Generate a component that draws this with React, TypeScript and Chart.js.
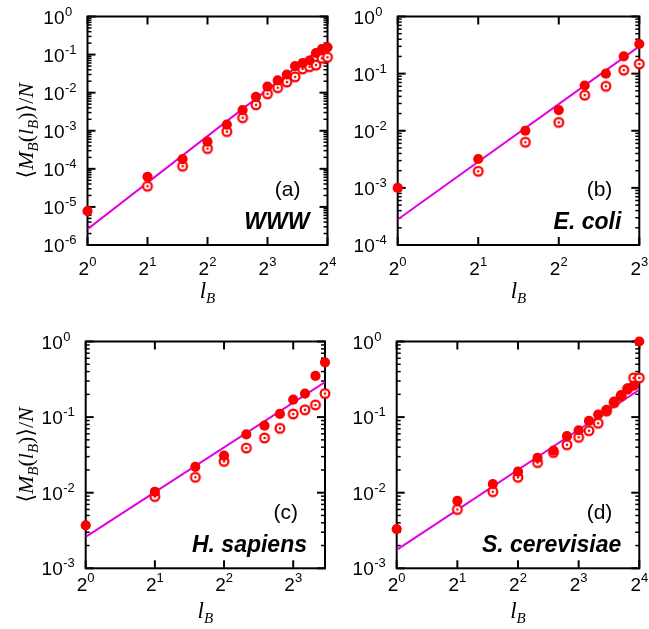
import React, { useEffect, useRef } from "react";
import { Chart, registerables } from "chart.js";

Chart.register(...registerables);

const WIDTH = 649;
const HEIGHT = 629;

const RED = "rgb(250,0,0)";
const MAGENTA = "rgb(225,0,225)";
const SANS = '"Liberation Sans", Arial, sans-serif';
const SERIF = '"Liberation Serif", "DejaVu Serif", "DejaVu Sans", serif';

// (a) WWW
const wwwLB = [1, 2, 3, 4, 5, 6, 7, 8, 9, 10, 11, 12, 13, 14, 15, 16];
const wwwFilled = [7.8e-6, 6.2e-5, 1.8e-4, 5.2e-4, 1.45e-3, 3.5e-3, 7.8e-3, 1.45e-2, 2.1e-2, 3.0e-2, 5.0e-2, 6.0e-2, 7.0e-2, 1.1e-1, 1.4e-1, 1.55e-1];
const wwwOpenLB = [2, 3, 4, 5, 6, 7, 8, 9, 10, 11, 12, 13, 14, 15, 16];
const wwwOpen = [3.5e-5, 1.17e-4, 3.4e-4, 9.5e-4, 2.2e-3, 4.8e-3, 9.3e-3, 1.35e-2, 1.9e-2, 2.6e-2, 4.2e-2, 4.8e-2, 5.3e-2, 8.0e-2, 8.5e-2];
const wwwFitLB = [1, 16];
const wwwFit = [2.6e-6, 0.2];

// (b) E. coli
const ecoliLB = [1, 2, 3, 4, 5, 6, 7, 8];
const ecoliFilled = [1.0e-3, 3.2e-3, 1.0e-2, 2.3e-2, 6.2e-2, 1.0e-1, 2.0e-1, 3.3e-1];
const ecoliOpenLB = [2, 3, 4, 5, 6, 7, 8];
const ecoliOpen = [1.95e-3, 6.3e-3, 1.4e-2, 4.2e-2, 6.0e-2, 1.15e-1, 1.48e-1];
const ecoliFitLB = [1, 8];
const ecoliFit = [2.8e-4, 0.3];

// (c) H. sapiens
const hsapLB = [1, 2, 3, 4, 5, 6, 7, 8, 9, 10, 11];
const hsapFilled = [3.7e-3, 1.03e-2, 2.2e-2, 3.1e-2, 5.9e-2, 7.7e-2, 1.1e-1, 1.7e-1, 2.05e-1, 3.5e-1, 5.3e-1];
const hsapOpenLB = [2, 3, 4, 5, 6, 7, 8, 9, 10, 11];
const hsapOpen = [8.9e-3, 1.6e-2, 2.6e-2, 3.9e-2, 5.3e-2, 7.1e-2, 1.1e-1, 1.25e-1, 1.45e-1, 2.05e-1];
const hsapFitLB = [1, 11];
const hsapFit = [2.6e-3, 0.29];

// (d) S. cerevisiae
const scerLB = [1, 2, 3, 4, 5, 6, 7, 8, 9, 10, 11, 12, 13, 14, 15, 16];
const scerFilled = [3.3e-3, 7.8e-3, 1.3e-2, 1.9e-2, 2.9e-2, 3.6e-2, 5.6e-2, 6.7e-2, 8.9e-2, 1.08e-1, 1.25e-1, 1.6e-1, 1.95e-1, 2.4e-1, 2.6e-1, 1.0];
const scerOpenLB = [2, 3, 4, 5, 6, 7, 8, 9, 10, 11, 12, 13, 14, 15, 16];
const scerOpen = [6.0e-3, 1.03e-2, 1.6e-2, 2.5e-2, 3.4e-2, 4.3e-2, 5.4e-2, 6.6e-2, 8.3e-2, 1.2e-1, 1.55e-1, 1.9e-1, 2.35e-1, 3.3e-1, 3.3e-1];
const scerFitLB = [1, 16];
const scerFit = [1.75e-3, 0.23];

// tick exponents (x: powers of 2, y: powers of 10)
const xExpTo4 = [0, 1, 2, 3, 4];
const xExpTo3 = [0, 1, 2, 3];
const yExpWWW = [-6, -5, -4, -3, -2, -1, 0];
const yExpEcoli = [-4, -3, -2, -1, 0];
const yExpBio = [-3, -2, -1, 0];

type Frame = { left: number; top: number; right: number; bottom: number };

type PanelSpec = {
  frame: Frame;
  xMax: number;
  xExps: number[];
  yExps: number[];
  filledLB: number[];
  filled: number[];
  openLB: number[];
  open: number[];
  fitLB: number[];
  fit: number[];
  tag: string;
  name: string;
  yTitle: boolean;
  tickBase: number;
  titleBase: number;
};

const panels: PanelSpec[] = [
  {
    frame: { left: 87.5, top: 16.5, right: 327.5, bottom: 245 },
    xMax: 16, xExps: xExpTo4, yExps: yExpWWW,
    filledLB: wwwLB, filled: wwwFilled, openLB: wwwOpenLB, open: wwwOpen,
    fitLB: wwwFitLB, fit: wwwFit,
    tag: "(a)", name: "WWW", yTitle: true, tickBase: 275, titleBase: 298,
  },
  {
    frame: { left: 397.7, top: 16.5, right: 639.3, bottom: 245 },
    xMax: 8, xExps: xExpTo3, yExps: yExpEcoli,
    filledLB: ecoliLB, filled: ecoliFilled, openLB: ecoliOpenLB, open: ecoliOpen,
    fitLB: ecoliFitLB, fit: ecoliFit,
    tag: "(b)", name: "E. coli", yTitle: false, tickBase: 275, titleBase: 298,
  },
  {
    frame: { left: 85.7, top: 341.5, right: 325, bottom: 568.3 },
    xMax: 11, xExps: xExpTo3, yExps: yExpBio,
    filledLB: hsapLB, filled: hsapFilled, openLB: hsapOpenLB, open: hsapOpen,
    fitLB: hsapFitLB, fit: hsapFit,
    tag: "(c)", name: "H. sapiens", yTitle: true, tickBase: 591, titleBase: 618,
  },
  {
    frame: { left: 396.7, top: 341.5, right: 639.3, bottom: 568.3 },
    xMax: 16, xExps: xExpTo4, yExps: yExpBio,
    filledLB: scerLB, filled: scerFilled, openLB: scerOpenLB, open: scerOpen,
    fitLB: scerFitLB, fit: scerFit,
    tag: "(d)", name: "S. cerevisiae", yTitle: false, tickBase: 591, titleBase: 618,
  },
];

type Run = { text: string; font: string; dy: number };

function runsWidth(ctx: CanvasRenderingContext2D, runs: Run[]) {
  let w = 0;
  for (const r of runs) {
    ctx.font = r.font;
    w += ctx.measureText(r.text).width;
  }
  return w;
}

function drawRuns(ctx: CanvasRenderingContext2D, runs: Run[], x: number, y: number) {
  ctx.textAlign = "left";
  ctx.textBaseline = "alphabetic";
  let cx = x;
  for (const r of runs) {
    ctx.font = r.font;
    ctx.fillText(r.text, cx, y + r.dy);
    cx += ctx.measureText(r.text).width;
  }
}

// open marker: white disc, red ring, red centre dot
function makeRing() {
  const c = document.createElement("canvas");
  c.width = 14;
  c.height = 14;
  const g = c.getContext("2d")!;
  g.beginPath();
  g.arc(7, 7, 4.4, 0, Math.PI * 2);
  g.fillStyle = "#fff";
  g.fill();
  g.lineWidth = 2.2;
  g.strokeStyle = RED;
  g.stroke();
  g.beginPath();
  g.arc(7, 7, 1.3, 0, Math.PI * 2);
  g.fillStyle = RED;
  g.fill();
  return c;
}

function framePlugin(spec: PanelSpec) {
  return {
    id: "frameTicksLabels",
    beforeDatasetsDraw(chart: any) {
      const ctx: CanvasRenderingContext2D = chart.ctx;
      const a = chart.chartArea;
      const xs = chart.scales.x;
      const ys = chart.scales.y;
      const seg = (x1: number, y1: number, x2: number, y2: number) => {
        ctx.beginPath();
        ctx.moveTo(x1, y1);
        ctx.lineTo(x2, y2);
        ctx.stroke();
      };
      ctx.save();
      ctx.strokeStyle = "#000";
      ctx.fillStyle = "#000";

      // minor y ticks on both sides
      ctx.lineWidth = 1.5;
      const yLo = Math.min(...spec.yExps);
      const yHi = Math.max(...spec.yExps);
      for (let e = yLo; e < yHi; e++) {
        for (let m = 2; m <= 9; m++) {
          const y = ys.getPixelForValue(m * Math.pow(10, e));
          seg(a.left, y, a.left + 4, y);
          seg(a.right - 4, y, a.right, y);
        }
      }
      // major ticks
      ctx.lineWidth = 2;
      for (const e of spec.yExps) {
        const y = ys.getPixelForValue(Math.pow(10, e));
        seg(a.left, y, a.left + 8, y);
        seg(a.right - 8, y, a.right, y);
      }
      for (const e of spec.xExps) {
        const x = xs.getPixelForValue(Math.pow(2, e));
        seg(x, a.bottom, x, a.bottom - 8);
        seg(x, a.top, x, a.top + 8);
      }
      // frame
      ctx.strokeRect(a.left, a.top, a.right - a.left, a.bottom - a.top);

      // y tick labels: 10^e
      for (const e of spec.yExps) {
        const y = ys.getPixelForValue(Math.pow(10, e));
        ctx.textBaseline = "alphabetic";
        ctx.textAlign = "right";
        ctx.font = `19px ${SANS}`;
        ctx.fillText("10", a.left - 23, y + 7);
        ctx.textAlign = "left";
        ctx.font = `13px ${SANS}`;
        ctx.fillText(String(e), a.left - 22.5, y - 1);
      }
      // x tick labels: 2^e
      for (const e of spec.xExps) {
        const x = xs.getPixelForValue(Math.pow(2, e));
        const runs: Run[] = [
          { text: "2", font: `19px ${SANS}`, dy: 0 },
          { text: String(e), font: `13px ${SANS}`, dy: -9 },
        ];
        const w = runsWidth(ctx, runs);
        drawRuns(ctx, runs, x - w / 2, spec.tickBase);
      }

      // x title l_B
      const xt: Run[] = [
        { text: "l", font: `italic 23px ${SERIF}`, dy: 0 },
        { text: "B", font: `italic 15px ${SERIF}`, dy: 5 },
      ];
      const xtw = runsWidth(ctx, xt);
      drawRuns(ctx, xt, (a.left + a.right) / 2 - xtw / 2, spec.titleBase);

      // y title <M_B(l_B)>/N
      if (spec.yTitle) {
        const big = `22px ${SERIF}`;
        const bigI = `italic 22px ${SERIF}`;
        const subI = `italic 15px ${SERIF}`;
        const yt: Run[] = [
          { text: "\u27E8", font: big, dy: 0 },
          { text: "M", font: bigI, dy: 0 },
          { text: "B", font: subI, dy: 5 },
          { text: "(", font: big, dy: 0 },
          { text: "l", font: bigI, dy: 0 },
          { text: "B", font: subI, dy: 5 },
          { text: ")", font: big, dy: 0 },
          { text: "\u27E9", font: big, dy: 0 },
          { text: "/", font: big, dy: 0 },
          { text: "N", font: bigI, dy: 0 },
        ];
        const w = runsWidth(ctx, yt);
        ctx.save();
        ctx.translate(33, (a.top + a.bottom) / 2);
        ctx.rotate(-Math.PI / 2);
        drawRuns(ctx, yt, -w / 2, 0);
        ctx.restore();
      }

      // panel tag and network name
      ctx.textAlign = "right";
      ctx.textBaseline = "alphabetic";
      ctx.font = `21px ${SANS}`;
      ctx.fillText(spec.tag, a.right - 27, a.bottom - 49);
      ctx.font = `italic bold 23px ${SANS}`;
      ctx.fillText(spec.name, a.right - 18, a.bottom - 16);

      ctx.restore();
    },
  };
}

function Panel({ spec }: { spec: PanelSpec }) {
  const ref = useRef<HTMLCanvasElement>(null);
  useEffect(() => {
    const canvas = ref.current!;
    const ring = makeRing();
    const f = spec.frame;
    const chart = new Chart(canvas, {
      type: "scatter",
      data: {
        datasets: [
          {
            label: "filled",
            data: spec.filledLB.map((x, i) => ({ x, y: spec.filled[i] })),
            pointStyle: "circle",
            pointRadius: 5.1,
            pointBackgroundColor: RED,
            pointBorderWidth: 0,
            showLine: false,
            clip: false,
            order: 0,
          },
          {
            label: "open",
            data: spec.openLB.map((x, i) => ({ x, y: spec.open[i] })),
            pointStyle: ring,
            pointRadius: 5.5,
            showLine: false,
            clip: false,
            order: 1,
          },
          {
            label: "fit",
            data: spec.fitLB.map((x, i) => ({ x, y: spec.fit[i] })),
            showLine: true,
            borderColor: MAGENTA,
            borderWidth: 2,
            pointRadius: 0,
            order: 2,
          },
        ],
      } as any,
      options: {
        responsive: false,
        animation: false,
        devicePixelRatio: 1,
        events: [],
        layout: {
          padding: {
            left: f.left,
            top: f.top,
            right: WIDTH - f.right,
            bottom: HEIGHT - f.bottom,
          },
        },
        plugins: { legend: { display: false }, tooltip: { enabled: false } },
        scales: {
          x: { type: "logarithmic", min: 1, max: spec.xMax, display: false },
          y: {
            type: "logarithmic",
            min: Math.pow(10, Math.min(...spec.yExps)),
            max: 1,
            display: false,
          },
        },
      } as any,
      plugins: [framePlugin(spec)],
    });
    return () => chart.destroy();
  }, [spec]);
  return (
    <canvas
      ref={ref}
      width={WIDTH}
      height={HEIGHT}
      style={{ position: "absolute", left: 0, top: 0 }}
    />
  );
}

export default function App() {
  return (
    <div
      style={{
        position: "absolute",
        left: 0,
        top: 0,
        width: WIDTH,
        height: HEIGHT,
        background: "#fff",
        overflow: "hidden",
      }}
    >
      {panels.map((p) => (
        <Panel key={p.tag} spec={p} />
      ))}
    </div>
  );
}
